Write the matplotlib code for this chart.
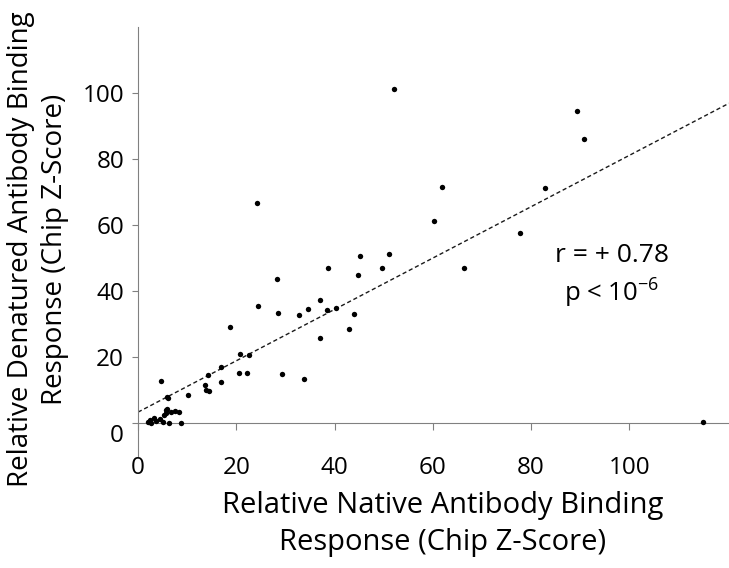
import matplotlib
matplotlib.use('Agg')
import matplotlib.pyplot as plt
from matplotlib.transforms import ScaledTranslation

# Native (x) vs denatured (y) chip z-scores
native = [52.2, 89.3, 90.7, 61.8, 82.9, 60.3, 77.7, 45.1, 51.0, 49.6, 66.4, 115.0,
          24.2, 28.2, 38.6, 44.7, 24.5, 28.4, 32.8, 34.6, 37.1, 38.4, 40.4, 43.9,
          43.0, 37.1, 18.8, 20.8, 22.6, 16.9, 33.7, 29.3, 22.2, 20.5, 14.2, 13.6,
          16.8, 13.8, 14.4, 10.1, 4.6, 5.9, 6.1, 5.6, 5.8, 6.0, 6.8, 7.6, 8.3,
          5.3, 6.4, 8.7, 2.0, 3.2, 3.7, 4.4, 5.1, 2.7, 2.5]
denatured = [101.2, 94.6, 86.0, 71.4, 71.0, 61.2, 57.6, 50.4, 51.1, 46.9, 46.9, 0.1,
             66.5, 43.5, 46.8, 44.7, 35.4, 33.1, 32.7, 34.5, 37.2, 34.1, 34.9, 33.0,
             28.4, 25.8, 29.1, 20.7, 20.4, 16.9, 13.1, 14.9, 15.2, 15.2, 14.5, 11.4,
             12.3, 9.8, 9.5, 8.5, 12.5, 7.9, 7.4, 3.8, 2.8, 4.3, 3.3, 3.6, 3.3,
             2.3, 0.0, 0.0, 0.3, 1.3, 0.6, 1.0, 0.3, 0.0, 0.8]

fit_intercept = 3.2
fit_slope = 0.778

xticks = [0, 20, 40, 60, 80, 100]
yticks = [0, 20, 40, 60, 80, 100]

plt.rcParams['font.family'] = ['Open Sans', 'DejaVu Sans']
plt.rcParams['mathtext.fontset'] = 'custom'
plt.rcParams['mathtext.rm'] = 'Open Sans'

fig = plt.figure(figsize=(7.29, 5.68), dpi=100)
ax = fig.add_axes([0.1893, 0.1977, 0.8107, 0.7553])

ax.scatter(native, denatured, s=15, color='black', zorder=3, linewidths=0)
ax.axline((0, fit_intercept), slope=fit_slope, color='#1a1a1a', lw=1.0,
          dashes=(3.0, 2.0), zorder=2)

ax.set_xlim(0, 120.3)
ax.set_ylim(-10, 120)

for side in ['top', 'right']:
    ax.spines[side].set_visible(False)
ax.spines['bottom'].set_position(('data', 0))
ax.spines['left'].set_color('#808080')
ax.spines['bottom'].set_color('#808080')

ax.set_xticks(xticks)
ax.set_yticks(yticks)
ax.tick_params(axis='x', length=5, color='#808080', pad=19, labelsize=17.5)
ax.tick_params(axis='y', length=4, color='#808080', pad=6, labelsize=17.5)

ax.set_xlabel('Relative Native Antibody Binding\nResponse (Chip Z-Score)',
              fontsize=21, linespacing=1.35)
ax.xaxis.set_label_coords(0.516, -0.16)
ax.xaxis.label.set_va('center')

ax.set_ylabel('Relative Denatured Antibody Binding\nResponse (Chip Z-Score)',
              fontsize=20, linespacing=1.32)
ax.yaxis.set_label_coords(-0.169, 0.482)
ax.yaxis.label.set_va('center')

ax.text(96.5, 50.8, 'r = + 0.78', ha='center', va='center', fontsize=19)
ax.text(96.5, 39.6, r'p < 10$^{\mathregular{-6}}$', ha='center', va='center', fontsize=18.5)

# the "0" on the y axis sits a little below its tick in the original
zero_lbl = ax.yaxis.get_major_ticks()[0].label1
zero_lbl.set_transform(zero_lbl.get_transform() + ScaledTranslation(0, -0.1, fig.dpi_scale_trans))

fig.savefig('out.png', dpi=100)
